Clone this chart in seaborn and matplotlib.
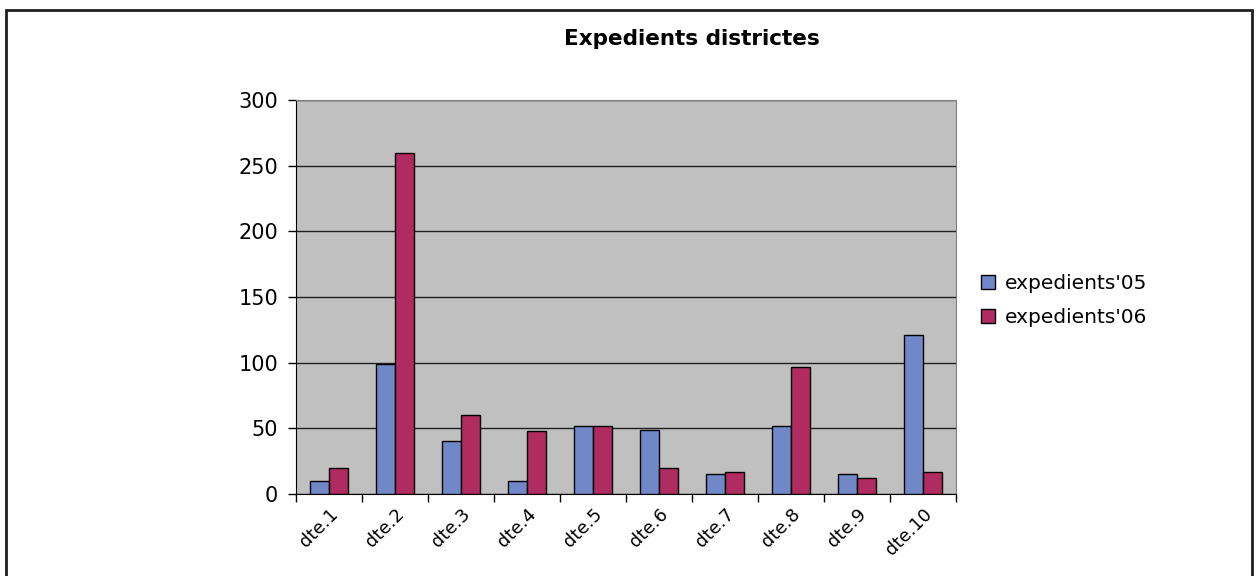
import numpy as np
import pandas as pd
import matplotlib.pyplot as plt
from matplotlib.patches import Rectangle
import seaborn as sns

# values
districts = ['dte.1', 'dte.2', 'dte.3', 'dte.4', 'dte.5',
             'dte.6', 'dte.7', 'dte.8', 'dte.9', 'dte.10']
exp05 = [10, 99, 40, 10, 52, 49, 15, 52, 15, 121]
exp06 = [20, 260, 60, 48, 52, 20, 17, 97, 12, 17]
series = ["expedients'05", "expedients'06"]
yticks = [0, 50, 100, 150, 200, 250, 300]

df = pd.DataFrame({
    'district': districts * 2,
    'value': exp05 + exp06,
    'serie': [series[0]] * len(districts) + [series[1]] * len(districts),
})

sns.set_style('white')
plt.rcParams['font.family'] = ['DejaVu Sans']
plt.rcParams['text.color'] = 'black'
plt.rcParams['xtick.color'] = 'black'
plt.rcParams['ytick.color'] = 'black'

fig = plt.figure(figsize=(12.6, 5.76), dpi=100)
ax = fig.add_axes([0.235, 0.1424, 0.524, 0.684])

sns.barplot(data=df, x='district', y='value', hue='serie',
            palette=['#7088C8', '#B02C60'], width=0.58, gap=0,
            edgecolor='black', linewidth=1, saturation=1, ax=ax, zorder=3)

ax.set_facecolor('#C0C0C0')
ax.set_ylim(0, 300)
ax.set_xlim(-0.5, len(districts) - 0.5)
ax.set_yticks(yticks)
ax.yaxis.grid(True, color='#202020', linewidth=1, zorder=1)
ax.set_axisbelow(True)

for side in ['top', 'right']:
    ax.spines[side].set_color('#808080')
for side in ['left', 'bottom']:
    ax.spines[side].set_color('black')

ax.set_xlabel('')
ax.set_ylabel('')
ax.tick_params(axis='y', direction='out', length=6, width=1, color='black',
               labelsize=15, left=True, pad=7)
ax.tick_params(axis='x', which='major', length=0, labelsize=13, pad=8)
ax.set_xticks(np.arange(-0.5, len(districts), 1), minor=True)
ax.tick_params(axis='x', which='minor', direction='out', length=6, width=1,
               color='black', bottom=True)
plt.setp(ax.get_xticklabels(), rotation=45, ha='right', rotation_mode='anchor')

ax.legend(title=None, frameon=False, fontsize=14.5, loc='center left',
          bbox_to_anchor=(1.01, 0.49), handlelength=0.7, handleheight=0.7,
          handletextpad=0.5, labelspacing=0.75)

fig.text(0.549, 0.933, 'Expedients districtes', ha='center', va='center',
         fontsize=15.5, fontweight='bold')

# outer frame around the chart
fig.patches.append(Rectangle((6 / 1260, -0.05), 1246 / 1260, 1.05 - 10 / 576,
                             transform=fig.transFigure, fill=False,
                             edgecolor='#202020', linewidth=2))

fig.savefig('out.png', dpi=100)
